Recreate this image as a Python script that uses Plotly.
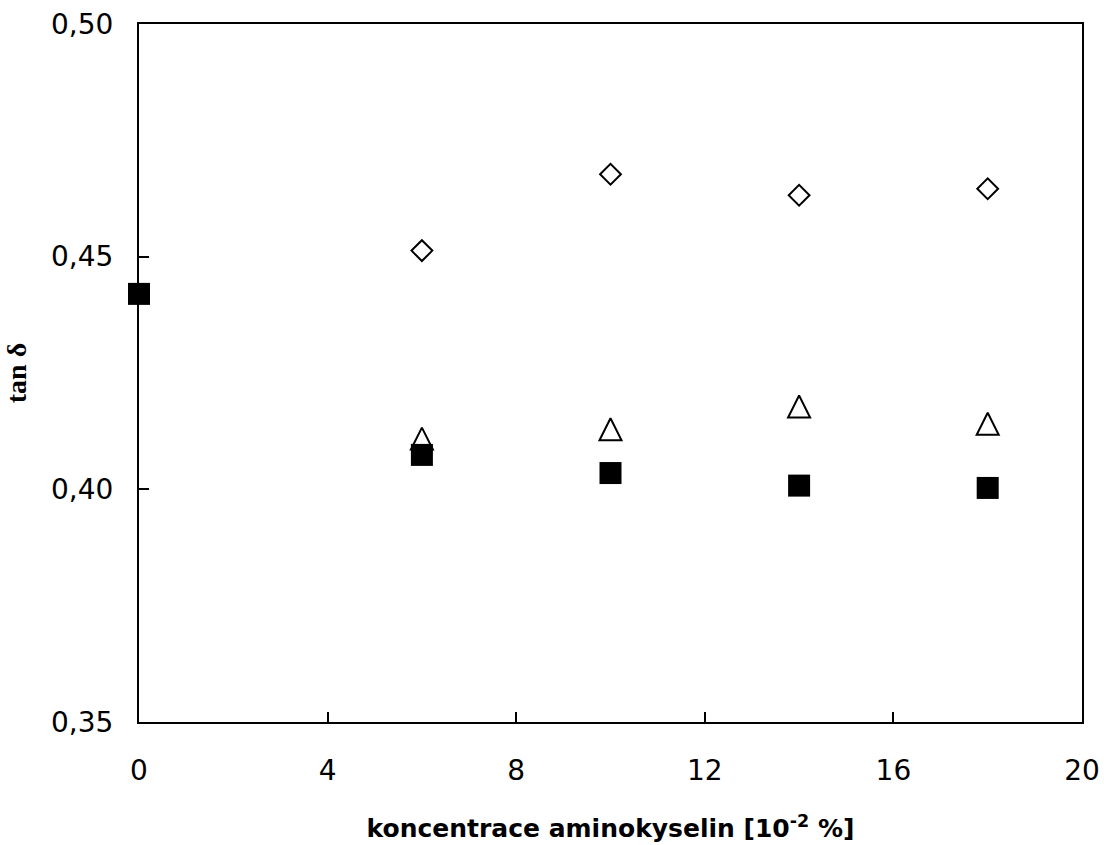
import plotly.graph_objects as go

x_diamond = [6, 10, 14, 18]
y_diamond = [0.4513, 0.4677, 0.4632, 0.4646]

x_triangle = [6, 10, 14, 18]
y_triangle = [0.4109, 0.4129, 0.4178, 0.4141]

x_square = [0, 6, 10, 14, 18]
y_square = [0.4420, 0.4074, 0.4035, 0.4008, 0.4003]

x_ticks = [0, 4, 8, 12, 16, 20]
y_ticks = [0.35, 0.40, 0.45, 0.50]
y_ticktext = ["0,35", "0,40", "0,45", "0,50"]

TRI = 22

fig = go.Figure()
fig.add_trace(go.Scatter(x=x_diamond, y=y_diamond, mode="markers",
                         marker=dict(symbol="diamond-open", size=16, color="black",
                                     line=dict(width=2, color="black"))))
# upright open triangle (width = height = TRI px), centred on the data point
fig.add_trace(go.Scatter(x=x_triangle, y=y_triangle, mode="markers",
                         marker=dict(symbol="arrow-down-open", size=TRI, angle=180,
                                     standoff=TRI / 2, color="black",
                                     line=dict(width=2, color="black"))))
fig.add_trace(go.Scatter(x=x_square, y=y_square, mode="markers",
                         marker=dict(symbol="square", size=22, color="black",
                                     line=dict(width=0))))

fig.update_layout(
    width=1104, height=845,
    margin=dict(l=139, r=22, t=24, b=123),
    paper_bgcolor="white", plot_bgcolor="white",
    showlegend=False,
    font=dict(family="DejaVu Sans", size=28, color="black"),
)
fig.update_xaxes(
    range=[0, 20], tickvals=x_ticks, ticktext=[str(v) for v in x_ticks],
    showgrid=False, zeroline=False, automargin=False,
    showline=True, linecolor="black", linewidth=2, mirror=True,
    ticks="inside", ticklen=10, tickwidth=1.5, tickcolor="black",
    ticklabelstandoff=22,
    title=dict(text="<b>koncentrace aminokyselin [10<sup>-2</sup> %]</b>",
               font=dict(family="DejaVu Sans", size=25), standoff=34),
)
fig.update_yaxes(
    range=[0.35, 0.50], tickvals=y_ticks, ticktext=y_ticktext,
    showgrid=False, zeroline=False, automargin=False,
    showline=True, linecolor="black", linewidth=2, mirror=True,
    ticks="inside", ticklen=10, tickwidth=1.5, tickcolor="black",
    ticklabelstandoff=18,
    title=dict(text="<b>tan δ</b>",
               font=dict(family="Liberation Serif", size=28), standoff=16),
)
fig.update_traces(cliponaxis=False)
fig.write_html("out.html")
